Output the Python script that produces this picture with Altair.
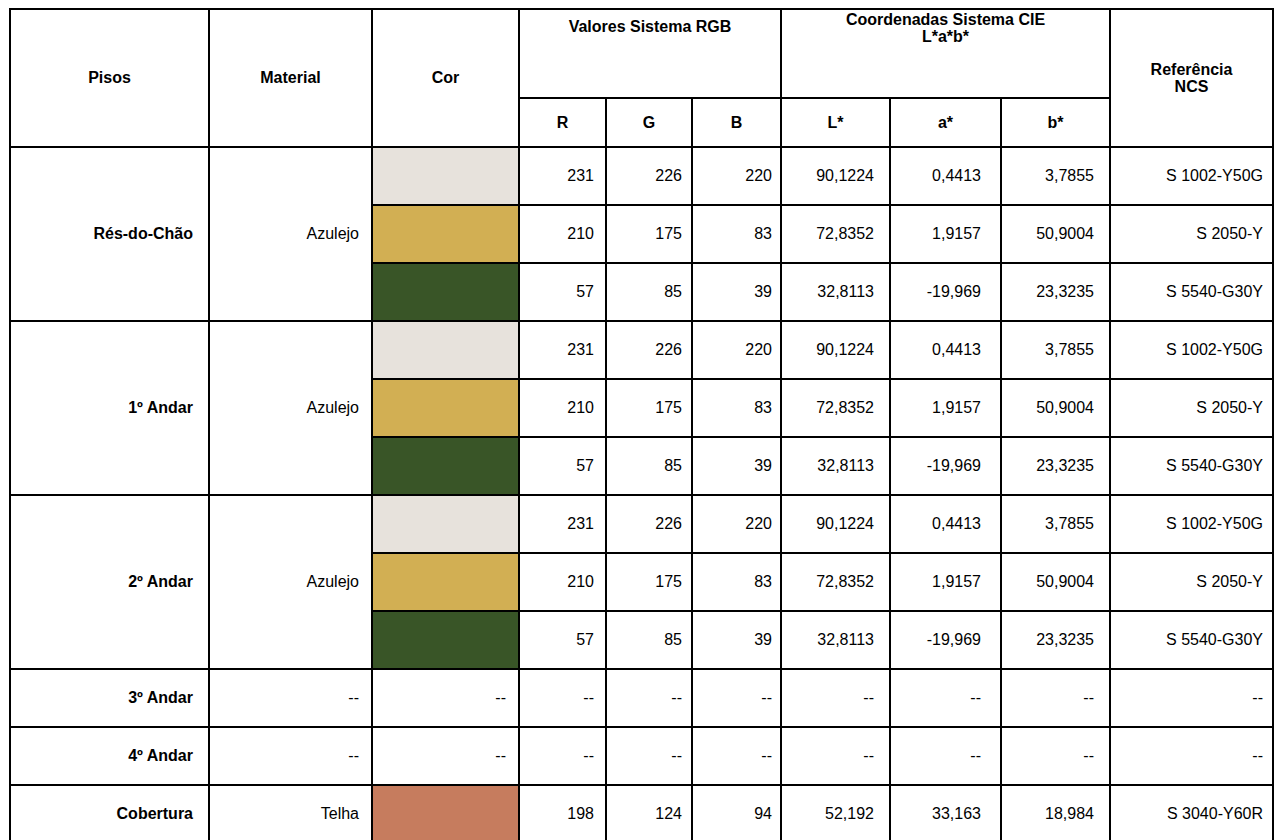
import altair as alt
import pandas as pd

# ---------------- data ----------------
pisos = ["Rés-do-Chão", "1º Andar", "2º Andar", "3º Andar", "4º Andar", "Cobertura"]
material = ["Azulejo", "Azulejo", "Azulejo", "--", "--", "Telha"]
rows_per_piso = [3, 3, 3, 1, 1, 1]

R = ["231", "210", "57", "231", "210", "57", "231", "210", "57", "--", "--", "198"]
G = ["226", "175", "85", "226", "175", "85", "226", "175", "85", "--", "--", "124"]
B = ["220", "83", "39", "220", "83", "39", "220", "83", "39", "--", "--", "94"]
L_star = ["90,1224", "72,8352", "32,8113", "90,1224", "72,8352", "32,8113",
          "90,1224", "72,8352", "32,8113", "--", "--", "52,192"]
a_star = ["0,4413", "1,9157", "-19,969", "0,4413", "1,9157", "-19,969",
          "0,4413", "1,9157", "-19,969", "--", "--", "33,163"]
b_star = ["3,7855", "50,9004", "23,3235", "3,7855", "50,9004", "23,3235",
          "3,7855", "50,9004", "23,3235", "--", "--", "18,984"]
ncs = ["S 1002-Y50G", "S 2050-Y", "S 5540-G30Y", "S 1002-Y50G", "S 2050-Y", "S 5540-G30Y",
       "S 1002-Y50G", "S 2050-Y", "S 5540-G30Y", "--", "--", "S 3040-Y60R"]

header_main = ["Pisos", "Material", "Cor"]
header_rgb = "Valores Sistema RGB"
header_cie = "Coordenadas Sistema CIE\nL*a*b*"
header_ncs = "Referência\nNCS"
sub_headers = ["R", "G", "B", "L*", "a*", "b*"]

# ---------------- layout ----------------
W, H = 1266, 832          # chart size (page offset 8px)
OFF = 8
col_w = [199, 163, 147, 87, 86, 89, 109, 111, 109, 163]
x_left = 10
y_top = 9
y_mid = 98
y_hdr = 147
row_h = 58

xe = [x_left]
for w in col_w:
    xe.append(xe[-1] + w)
n_rows = sum(rows_per_piso)
ye = [y_hdr + i * row_h for i in range(n_rows + 1)]

xs = alt.Scale(domain=[OFF, OFF + W], range=[0, W])
ys = alt.Scale(domain=[OFF, OFF + H], reverse=True)

# ---------------- swatches ----------------
sw = []
for i in range(n_rows):
    if R[i] != "--":
        sw.append(dict(x=xe[2] + 1, x2=xe[3] - 1, y=ye[i], y2=ye[i + 1],
                       c=f"rgb({R[i]},{G[i]},{B[i]})"))
sw_df = pd.DataFrame(sw)
swatches = alt.Chart(sw_df).mark_rect().encode(
    x=alt.X("x:Q", scale=xs, axis=None),
    x2="x2:Q",
    y=alt.Y("y:Q", scale=ys, axis=None),
    y2="y2:Q",
    color=alt.Color("c:N", scale=None),
)

# ---------------- grid lines ----------------
lines = []
def seg(x1, y1, x2, y2):
    lines.append(dict(x=x1, y=y1, x2=x2, y2=y2))

bottom = OFF + H + 10
for k in [0, 1, 2, 3, 6, 9, 10]:
    seg(xe[k], y_top, xe[k], bottom)
for k in [4, 5, 7, 8]:
    seg(xe[k], y_mid, xe[k], bottom)
seg(xe[0], y_top, xe[10], y_top)
seg(xe[3], y_mid, xe[9], y_mid)
group_starts = set()
acc = 0
for n in rows_per_piso:
    group_starts.add(acc)
    acc += n
for i in range(n_rows + 1):
    if i in group_starts or i == n_rows:
        seg(xe[0], ye[i], xe[10], ye[i])
    else:
        seg(xe[2], ye[i], xe[10], ye[i])
ln_df = pd.DataFrame(lines)
grid = alt.Chart(ln_df).mark_rule(color="black", strokeWidth=2, strokeCap="square").encode(
    x=alt.X("x:Q", scale=xs, axis=None), x2="x2:Q",
    y=alt.Y("y:Q", scale=ys, axis=None), y2="y2:Q",
)

# ---------------- texts ----------------
FONT = "Liberation Sans"
FS = 16

hdr = []
for k, t in enumerate(header_main):
    hdr.append(dict(x=(xe[k] + xe[k + 1]) / 2, y=(y_top + y_hdr) / 2, t=t))
hdr.append(dict(x=(xe[3] + xe[6]) / 2, y=27, t=header_rgb))
hdr.append(dict(x=(xe[6] + xe[9]) / 2, y=20, t=header_cie))
hdr.append(dict(x=(xe[9] + xe[10]) / 2, y=70, t=header_ncs))
for k, t in enumerate(sub_headers):
    hdr.append(dict(x=(xe[3 + k] + xe[4 + k]) / 2, y=(y_mid + y_hdr) / 2, t=t))
hdr_df = pd.DataFrame(hdr)
hdr_text = alt.Chart(hdr_df).mark_text(
    font=FONT, fontSize=FS, fontWeight="bold", align="center", baseline="middle",
    lineBreak="\n", lineHeight=17, color="black"
).encode(
    x=alt.X("x:Q", scale=xs, axis=None), y=alt.Y("y:Q", scale=ys, axis=None), text="t:N"
)

pl = []
acc = 0
for p, n in zip(pisos, rows_per_piso):
    yc = (ye[acc] + ye[acc + n]) / 2
    pl.append(dict(x=xe[1] - 16, y=yc, t=p))
    acc += n
pl_df = pd.DataFrame(pl)
piso_text = alt.Chart(pl_df).mark_text(
    font=FONT, fontSize=FS, fontWeight="bold", align="right", baseline="middle", color="black"
).encode(
    x=alt.X("x:Q", scale=xs, axis=None), y=alt.Y("y:Q", scale=ys, axis=None), text="t:N"
)

pads = [12, 10, 9, 16, 20, 16, 10]
body = []
acc = 0
for m, n in zip(material, rows_per_piso):
    yc = (ye[acc] + ye[acc + n]) / 2
    body.append(dict(x=xe[2] - 13, y=yc, t=m))
    acc += n
cols = [R, G, B, L_star, a_star, b_star, ncs]
for i in range(n_rows):
    yc = (ye[i] + ye[i + 1]) / 2
    if R[i] == "--":
        body.append(dict(x=xe[3] - 13, y=yc, t="--"))
    for k, col in enumerate(cols):
        body.append(dict(x=xe[4 + k] - pads[k], y=yc, t=col[i]))
body_df = pd.DataFrame(body)
body_text = alt.Chart(body_df).mark_text(
    font=FONT, fontSize=FS, align="right", baseline="middle", color="black"
).encode(
    x=alt.X("x:Q", scale=xs, axis=None), y=alt.Y("y:Q", scale=ys, axis=None), text="t:N"
)

chart = alt.layer(swatches, grid, hdr_text, piso_text, body_text).properties(
    width=W, height=H, padding=0, autosize=alt.AutoSizeParams(type="none"),
    background="white"
).configure_view(stroke=None)

chart.save("out.html", embed_options={"renderer": "svg", "actions": False})
